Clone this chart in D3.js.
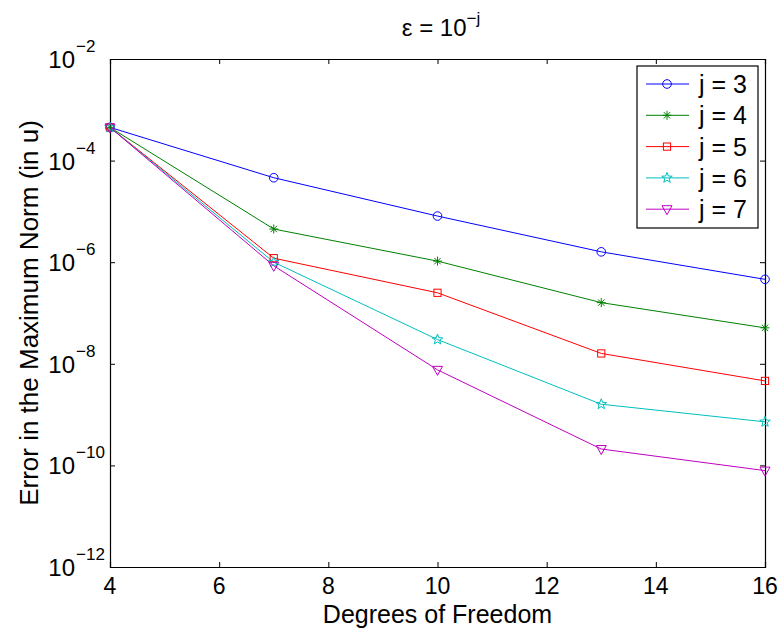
<!DOCTYPE html>
<html><head><meta charset="utf-8">
<script src="https://cdn.jsdelivr.net/npm/d3@7"></script>
<style>body{margin:0;background:#fff}svg{display:block}text{font-family:"Liberation Sans",Arial,sans-serif}</style>
</head><body>
<svg id="c" width="782" height="629"></svg>
<script>
const dof = [4, 7, 10, 13, 16];
const seriesNames = ["j = 3", "j = 4", "j = 5", "j = 6", "j = 7"];
const j3 = [4.5e-4, 4.6e-5, 8.1e-6, 1.6e-6, 4.6e-7];
const j4 = [4.5e-4, 4.5e-6, 1.05e-6, 1.6e-7, 5.1e-8];
const j5 = [4.5e-4, 1.2e-6, 2.5e-7, 1.6e-8, 4.6e-9];
const j6 = [4.5e-4, 1.0e-6, 3.0e-8, 1.6e-9, 7.2e-10];
const j7 = [4.5e-4, 8.5e-7, 7.6e-9, 2.1e-10, 7.9e-11];
const seriesColors = ["#0000ff", "#008000", "#ff0000", "#00bfbf", "#bf00bf"];
const seriesMarkers = ["circle", "asterisk", "square", "star", "triangleDown"];
const xTicks = [4, 6, 8, 10, 12, 14, 16];
const yTickExps = [-12, -10, -8, -6, -4, -2];

const allSeries = [j3, j4, j5, j6, j7];
const svg = d3.select("#c");
const L = 110, R = 765, T = 59, B = 567;
const x = d3.scaleLinear().domain([4, 16]).range([L, R]);
const y = d3.scaleLog().domain([1e-12, 1e-2]).range([B, T]);

const g = svg.append("g");
const tickVals = yTickExps.map(e => Math.pow(10, e));
const axB = d3.axisBottom(x).tickValues(xTicks).tickSize(-5).tickFormat("");
const axT = d3.axisTop(x).tickValues(xTicks).tickSize(-5).tickFormat("");
const axL = d3.axisLeft(y).tickValues(tickVals).tickSize(-5).tickFormat("");
const axR = d3.axisRight(y).tickValues(tickVals).tickSize(-5).tickFormat("");
[[axB, `translate(0,${B})`], [axT, `translate(0,${T})`], [axL, `translate(${L},0)`], [axR, `translate(${R},0)`]].forEach(([a, tr]) => {
  const s = g.append("g").attr("transform", tr).call(a);
  s.select(".domain").attr("stroke", "#000").attr("stroke-width", 1.2);
  s.selectAll(".tick line").attr("stroke", "#000");
});

// x tick labels
g.selectAll(".xl").data(xTicks).enter().append("text")
  .attr("x", d => x(d)).attr("y", 594).attr("text-anchor", "middle")
  .attr("font-size", 23).text(d => d);

// y tick labels: 10^e
yTickExps.forEach(e => {
  const yy = y(Math.pow(10, e));
  g.append("text").attr("x", 75).attr("y", yy + 9)
    .attr("text-anchor", "end").attr("font-size", 24).text("10");
  g.append("text").attr("x", 76).attr("y", yy - 7)
    .attr("font-size", 17).text("\u2212" + (-e));
});

// axis labels
svg.append("text").attr("x", (L + R) / 2).attr("y", 623).attr("text-anchor", "middle")
  .attr("font-size", 25).text("Degrees of Freedom");
svg.append("text").attr("transform", `translate(37.5,${(T + B) / 2}) rotate(-90)`)
  .attr("text-anchor", "middle").attr("font-size", 26).text("Error in the Maximum Norm (in u)");

// title
const title = svg.append("text").attr("x", 441).attr("y", 36).attr("text-anchor", "middle").attr("font-size", 24);
title.append("tspan").text("\u03b5 = 10");
title.append("tspan").attr("dy", -12).attr("font-size", 17).text("\u2212j");

function drawMarker(sel, type, color) {
  if (type === "circle") {
    sel.append("circle").attr("r", 4.3).attr("fill", "none").attr("stroke", color).attr("stroke-width", 1);
  } else if (type === "square") {
    sel.append("rect").attr("x", -3.6).attr("y", -3.6).attr("width", 7.2).attr("height", 7.2)
      .attr("fill", "none").attr("stroke", color).attr("stroke-width", 1);
  } else if (type === "asterisk") {
    const r = 4.5, d = r * 0.707;
    sel.append("path").attr("d", `M${-r},0H${r}M0,${-r}V${r}M${-d},${-d}L${d},${d}M${-d},${d}L${d},${-d}`)
      .attr("stroke", color).attr("stroke-width", 1).attr("fill", "none");
  } else if (type === "star") {
    const pts = [];
    for (let i = 0; i < 10; i++) {
      const a = -Math.PI / 2 + i * Math.PI / 5;
      const rr = i % 2 === 0 ? 5.5 : 2.3;
      pts.push([rr * Math.cos(a), rr * Math.sin(a)]);
    }
    sel.append("path").attr("d", "M" + pts.map(p => p.join(",")).join("L") + "Z")
      .attr("fill", "none").attr("stroke", color).attr("stroke-width", 1);
  } else if (type === "triangleDown") {
    sel.append("path").attr("d", "M-5,-3.5L5,-3.5L0,5.5Z").attr("fill", "none").attr("stroke", color).attr("stroke-width", 1);
  }
}

const line = d3.line().x((d, i) => x(dof[i])).y(d => y(d));
allSeries.forEach((s, k) => {
  g.append("path").datum(s).attr("d", line).attr("fill", "none")
    .attr("stroke", seriesColors[k]).attr("stroke-width", 1);
});
allSeries.forEach((s, k) => {
  s.forEach((v, i) => {
    const m = g.append("g").attr("transform", `translate(${x(dof[i])},${y(v)})`);
    drawMarker(m, seriesMarkers[k], seriesColors[k]);
  });
});

// legend
const lg = svg.append("g");
lg.append("rect").attr("x", 637).attr("y", 66).attr("width", 121).attr("height", 162)
  .attr("fill", "#fff").attr("stroke", "#000").attr("stroke-width", 1.2);
seriesNames.forEach((n, k) => {
  const cy = 84 + k * 31.3;
  lg.append("line").attr("x1", 646).attr("x2", 689).attr("y1", cy).attr("y2", cy)
    .attr("stroke", seriesColors[k]).attr("stroke-width", 1);
  drawMarker(lg.append("g").attr("transform", `translate(667,${cy})`), seriesMarkers[k], seriesColors[k]);
  lg.append("text").attr("x", 699).attr("y", cy + 9).attr("font-size", 25).text(n);
});
</script>
</body></html>
